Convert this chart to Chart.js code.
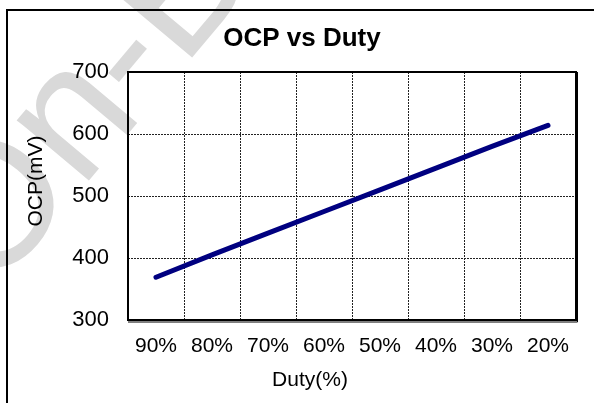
<!DOCTYPE html>
<html>
<head>
<meta charset="utf-8">
<script src="https://cdn.jsdelivr.net/npm/chart.js@4.4.1/dist/chart.umd.min.js"></script>
<style>
  html, body { margin: 0; padding: 0; background: #fff; }
  #wrap { width: 594px; height: 403px; }
</style>
</head>
<body>
<div id="wrap"><canvas id="chart" width="594" height="403"></canvas></div>
<script>
// data
const dutyLabels = ['90%', '80%', '70%', '60%', '50%', '40%', '30%', '20%'];
const ocpValues = [369, 405, 440, 475, 510, 545, 580, 614];
const yMin = 300;
const yMax = 700;
const yStep = 100;

const chartTitle = 'OCP vs Duty';
const xTitle = 'Duty(%)';
const yTitle = 'OCP(mV)';
const watermark = 'On-Bright';

const FONT = "'Liberation Sans', Arial, sans-serif";

// frame, watermark, plot border and titles
const decor = {
  id: 'decor',
  beforeDraw(chart) {
    const ctx = chart.ctx;
    ctx.save();
    ctx.fillStyle = '#fff';
    ctx.fillRect(0, 0, chart.width, chart.height);
    // light watermark
    ctx.translate(-8, 296);
    ctx.rotate(-50 * Math.PI / 180);
    ctx.fillStyle = '#d9d9d9';
    ctx.font = '178px ' + FONT;
    ctx.fillText(watermark, 0, 0);
    ctx.restore();
  },
  afterDraw(chart) {
    const ctx = chart.ctx;
    const a = chart.chartArea;
    ctx.save();
    // outer frame
    ctx.strokeStyle = '#000';
    ctx.lineWidth = 2;
    ctx.strokeRect(7, 10, 620, 420);
    // plot border
    ctx.lineWidth = 2;
    ctx.strokeRect(a.left, a.top, a.right - a.left, a.bottom - a.top);
    ctx.lineWidth = 1;
    ctx.beginPath();
    ctx.moveTo(a.right + 1.5, a.top);
    ctx.lineTo(a.right + 1.5, a.bottom + 2);
    ctx.lineTo(a.left, a.bottom + 2);
    ctx.stroke();
    // titles
    ctx.fillStyle = '#000';
    ctx.textAlign = 'center';
    ctx.textBaseline = 'middle';
    ctx.font = 'bold 26px ' + FONT;
    ctx.fillText(chartTitle, 302, 39);
    ctx.font = '21px ' + FONT;
    ctx.fillText(xTitle, 310, 380);
    ctx.translate(36, 181);
    ctx.rotate(-Math.PI / 2);
    ctx.fillText(yTitle, 0, 0);
    ctx.restore();
  }
};

new Chart(document.getElementById('chart'), {
  type: 'line',
  data: {
    labels: dutyLabels,
    datasets: [{
      label: 'OCP',
      data: ocpValues,
      borderColor: '#000080',
      borderWidth: 5,
      borderCapStyle: 'round',
      pointRadius: 0,
      tension: 0,
      fill: false
    }]
  },
  options: {
    responsive: false,
    animation: false,
    layout: { padding: { left: 10, right: 18, top: 72, bottom: 43 } },
    plugins: {
      legend: { display: false },
      title: { display: false },
      tooltip: { enabled: false }
    },
    scales: {
      x: {
        offset: true,
        afterFit(scale) { scale.height = 40; },
        grid: { offset: true, color: '#222', lineWidth: 1, drawTicks: false },
        border: { display: false, dash: [2, 1] },
        ticks: { color: '#000', font: { family: FONT, size: 21 }, padding: 14, maxRotation: 0, autoSkip: false }
      },
      y: {
        min: yMin,
        max: yMax,
        afterFit(scale) { scale.width = 118; },
        grid: { color: '#222', lineWidth: 1, drawTicks: false },
        border: { display: false, dash: [2, 1] },
        ticks: { stepSize: yStep, color: '#000', font: { family: FONT, size: 22 }, padding: 19 }
      }
    }
  },
  plugins: [decor]
});
</script>
</body>
</html>
